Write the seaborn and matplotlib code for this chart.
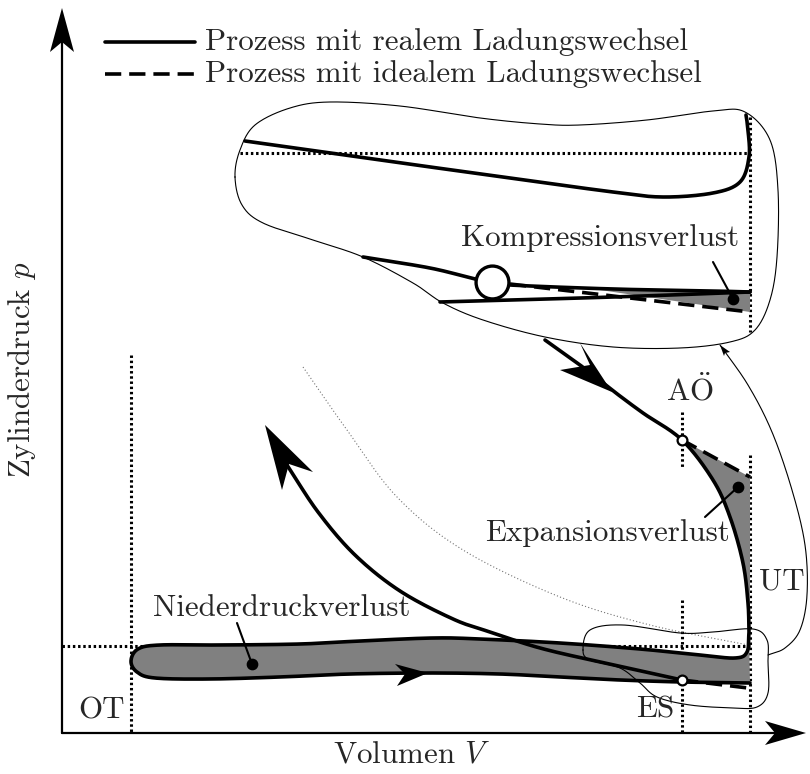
import numpy as np
import matplotlib
matplotlib.use("Agg")
import matplotlib.pyplot as plt
import seaborn as sns

# ---------------------------------------------------------------------------
# Schematic p-V diagram of the gas-exchange losses (drawing coordinates:
# x grows with volume, y grows downwards on the sheet)
# ---------------------------------------------------------------------------

# real expansion from the top of the diagram down to bottom dead centre (UT)
expansion_real = [(545, 340), (580, 365), (612, 390), (643, 413), (682, 440),
                  (713, 480), (730, 517), (743, 563), (748, 603), (749, 632)]
# low-pressure loop: exhaust stroke to OT, then intake stroke back to UT
low_pressure_loop = [(749, 632), (747, 652), (735, 658), (700, 655), (640, 649),
                     (560, 643), (480, 639), (433, 638), (360, 641), (300, 644),
                     (220, 645), (160, 645), (138, 649), (131, 661), (137, 672),
                     (155, 678), (210, 679), (280, 677), (350, 674), (430, 673),
                     (500, 674), (560, 677), (620, 680), (682, 682), (750, 683)]
# real compression from ES up to the arrow
compression_real = [(682, 680), (600, 662), (540, 648), (490, 632), (453, 619),
                    (400, 591), (355, 555), (318, 512), (287, 465)]
# ideal gas exchange (dashed)
expansion_ideal = [(682, 440), (750, 477)]
compression_ideal = [(682, 680), (748, 688)]
# reference polytrope (thin grey dotted)
polytrope = [(303, 367), (347, 430), (397, 497), (463, 550), (560, 597),
             (650, 625), (748, 645)]

# magnified detail around ES / UT
detail_exhaust = [(245, 141), (380, 160), (510, 178), (613, 192), (663, 197),
                  (713, 193), (740, 182), (749, 157), (748, 130), (746, 115)]
detail_compression = [(363, 257), (430, 268), (475, 279), (492, 282),
                      (510, 285), (613, 289), (713, 291), (750, 292)]
detail_compression_ideal = [(510, 284), (750, 312)]
detail_intake = [(440, 302), (613, 297), (750, 292)]
detail_loss = [(600, 290), (750, 292), (750, 312)]
detail_outline = [(235, 177), (240, 150), (255, 125), (290, 108), (330, 102),
                  (400, 106), (480, 118), (540, 124), (580, 125), (647, 120),
                  (713, 111), (745, 112), (770, 140), (778, 190), (777, 257),
                  (770, 300), (755, 330), (730, 342), (680, 348), (613, 347),
                  (545, 337), (483, 320), (443, 303), (413, 283), (363, 257),
                  (313, 240), (263, 223), (242, 205)]
small_outline = [(583, 650), (590, 630), (623, 625), (680, 633), (713, 632),
                 (753, 629), (767, 640), (768, 662), (768, 693), (757, 707),
                 (733, 708), (690, 705), (657, 697), (640, 683), (620, 668),
                 (590, 660)]
connector = [(768, 655), (785, 648), (800, 630), (807, 595), (805, 545),
             (792, 490), (772, 432), (748, 385), (720, 345)]

# characteristic points and guide levels
p0_level = 646
x_ot, x_es, x_ut = 131, 682, 750
point_aoe = (682, 440)
point_es = (682, 680)
detail_es = (492, 282)
loss_dots = [(252, 664), (738, 487), (733, 299)]
leader_ends = [(237, 623), (705, 517), (713, 262)]

legend_labels = ["Prozess mit realem Ladungswechsel",
                 "Prozess mit idealem Ladungswechsel"]


def spline(points, n=24, closed=False):
    """Catmull-Rom curve through the given control points."""
    P = np.asarray(points, float)
    if closed:
        P = np.vstack([P[-1], P, P[0], P[1]])
    else:
        P = np.vstack([2 * P[0] - P[1], P, 2 * P[-1] - P[-2]])
    t = np.linspace(0, 1, n, endpoint=False)[:, None]
    parts = []
    for i in range(1, len(P) - 2):
        p0, p1, p2, p3 = P[i - 1], P[i], P[i + 1], P[i + 2]
        parts.append(0.5 * (2 * p1 + (-p0 + p2) * t
                            + (2 * p0 - 5 * p1 + 4 * p2 - p3) * t ** 2
                            + (-p0 + 3 * p1 - 3 * p2 + p3) * t ** 3))
    parts.append(P[-2][None, :] if not closed else P[1][None, :])
    return np.vstack(parts)


def draw(ax, pts, **kw):
    pts = np.asarray(pts, float)
    sns.lineplot(x=pts[:, 0], y=pts[:, 1], sort=False, estimator=None,
                 ax=ax, **kw)


def arrowhead(ax, tip, back_l, notch, back_r):
    poly = np.array([tip, back_l, notch, back_r])
    ax.fill(poly[:, 0], poly[:, 1], color="black", lw=0, zorder=6)


sns.set_theme(style="white")
plt.rcParams["font.family"] = ["cmr10", "DejaVu Serif"]
plt.rcParams["mathtext.fontset"] = "cm"
plt.rcParams["axes.formatter.use_mathtext"] = True

fig = plt.figure(figsize=(8.1, 7.74), dpi=100)
ax = fig.add_axes([0, 0, 1, 1])
ax.set_xlim(0, 810)
ax.set_ylim(774, 0)
ax.axis("off")

THICK = 2.6
DOT = dict(color="black", lw=2.2, linestyle=(0, (0.8, 0.9)))
FS = 22.3

# ---- axes with arrows ------------------------------------------------------
draw(ax, [(62, 733), (62, 30)], color="black", lw=1.6)
draw(ax, [(62, 733), (785, 733)], color="black", lw=1.6)
arrowhead(ax, (62, 8), (50, 52), (62, 42), (74, 52))
arrowhead(ax, (806, 733), (765, 721), (775, 733), (765, 745))
ax.text(22, 370, "Zylinderdruck $p$", rotation=90, ha="center", va="center",
        fontsize=FS)
ax.text(412, 755, "Volumen $V$", ha="center", va="center", fontsize=FS)

# ---- legend --------------------------------------------------------------
draw(ax, [(105, 42), (195, 42)], color="black", lw=THICK)
draw(ax, [(105, 74), (195, 74)], color="black", lw=THICK,
     linestyle=(0, (4.5, 2.2)))
ax.text(205, 42, legend_labels[0], ha="left", va="center", fontsize=FS)
ax.text(205, 74, legend_labels[1], ha="left", va="center", fontsize=FS)

# ---- guide lines ----------------------------------------------------------
draw(ax, [(62, p0_level), (x_ut, p0_level)], **DOT)
draw(ax, [(x_ot, 355), (x_ot, 733)], **DOT)
draw(ax, [(x_es, 600), (x_es, 733)], **DOT)
draw(ax, [(x_es, 412), (x_es, 467)], **DOT)
draw(ax, [(x_ut, 455), (x_ut, 733)], **DOT)
draw(ax, [(240, 153), (x_ut, 153)], **DOT)
draw(ax, [(x_ut, 117), (x_ut, 332)], **DOT)
draw(ax, spline(polytrope), color="0.45", lw=0.8, linestyle=(0, (1, 2)))

# ---- loss areas -----------------------------------------------------------
GREY = "#808080"
exp_curve = spline(expansion_real)
after = exp_curve[exp_curve[:, 1] >= point_aoe[1]]
exp_area = np.vstack([expansion_ideal, [(x_ut, after[-1, 1])], after[::-1]])
ax.fill(exp_area[:, 0], exp_area[:, 1], color=GREY, lw=0, zorder=2)

loop_curve = spline(low_pressure_loop)
ax.fill(loop_curve[:, 0], loop_curve[:, 1], color=GREY, lw=0, zorder=2)

det = np.asarray(detail_loss)
ax.fill(det[:, 0], det[:, 1], color=GREY, lw=0, zorder=2)

# ---- process lines --------------------------------------------------------
real_path = np.vstack([exp_curve, loop_curve])
draw(ax, real_path, color="black", lw=THICK, zorder=4)
draw(ax, spline(compression_real), color="black", lw=THICK, zorder=4)
draw(ax, expansion_ideal, color="black", lw=THICK, zorder=4,
     linestyle=(0, (4.5, 2.2)))
draw(ax, compression_ideal, color="black", lw=THICK, zorder=4,
     linestyle=(0, (4.5, 2.2)))

# direction arrows
arrowhead(ax, (612, 392), (580, 343), (590, 365), (560, 370))
arrowhead(ax, (265, 425), (313, 472), (289, 464), (282, 490))
arrowhead(ax, (428, 673), (395, 664), (405, 674), (397, 686))

# ---- magnified detail -------------------------------------------------------
draw(ax, spline(detail_outline, closed=True), color="black", lw=0.8, zorder=3)
draw(ax, spline(detail_exhaust), color="black", lw=THICK, zorder=4)
draw(ax, spline(detail_compression), color="black", lw=THICK, zorder=4)
draw(ax, spline(detail_intake), color="black", lw=THICK, zorder=4)
draw(ax, detail_compression_ideal, color="black", lw=THICK, zorder=4,
     linestyle=(0, (4.5, 2.2)))
draw(ax, spline(small_outline, closed=True), color="black", lw=0.8, zorder=3)
draw(ax, spline(connector), color="black", lw=0.8, zorder=3)
arrowhead(ax, (720, 345), (724, 356), (725, 353), (730, 352))

# ---- points --------------------------------------------------------------
for (x, y) in [point_aoe, point_es]:
    ax.scatter([x], [y], s=50, facecolor="white", edgecolor="black",
               linewidth=1.6, zorder=7)
ax.scatter([detail_es[0]], [detail_es[1]], s=560, facecolor="white",
           edgecolor="black", linewidth=2.4, zorder=7)
for (dx, dy), (lx, ly) in zip(loss_dots, leader_ends):
    draw(ax, [(lx, ly), (dx, dy)], color="black", lw=1.5, zorder=5)
    ax.scatter([dx], [dy], s=55, color="black", zorder=7)

# ---- labels --------------------------------------------------------------
ax.text(101, 711, "OT", ha="center", va="center", fontsize=FS)
ax.text(655, 710, "ES", ha="center", va="center", fontsize=FS)
ax.text(782, 582, "UT", ha="center", va="center", fontsize=FS)
ax.text(690, 390, r"A$\ddot{\rm O}$", ha="center", va="center", fontsize=FS)
ax.text(282, 608, "Niederdruckverlust", ha="center", va="center", fontsize=FS)
ax.text(607, 533, "Expansionsverlust", ha="center", va="center", fontsize=FS)
ax.text(600, 238, "Kompressionsverlust", ha="center", va="center", fontsize=FS)

fig.savefig("out.png", dpi=100)
